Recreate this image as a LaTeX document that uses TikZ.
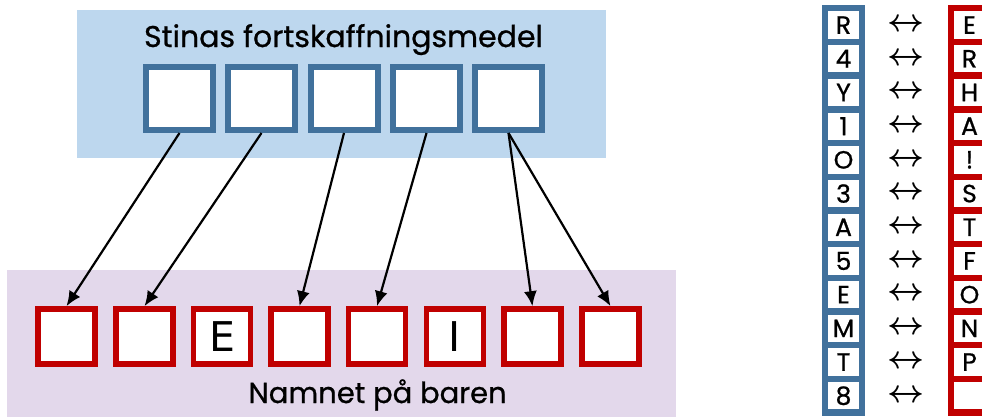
\documentclass[tikz,border=0pt]{standalone}
\usepackage{graphicx}
\usepackage{fontspec}
\setmainfont{Poppins}[FakeBold=0.8]
\newfontfamily\boxfont{DejaVu Sans}
\usetikzlibrary{arrows.meta}
\definecolor{skyfill}{HTML}{BDD7EE}
\definecolor{skyline}{HTML}{41719C}
\definecolor{lilacfill}{HTML}{E3D8EB}
\definecolor{barred}{HTML}{C00000}
\newcommand{\keyarrow}{\resizebox{37pt}{!}{\boldmath$\leftrightarrow$}}

\begin{document}
\begin{tikzpicture}[x=1pt,y=-1pt]
    \tikzstyle{every node}=[font=\fontsize{25}{25}\selectfont, inner sep=0pt]
    \tikzstyle{bluebox}=[draw=skyline, fill=white, line width=6pt,
        minimum width=67pt, minimum height=63pt]
    \tikzstyle{redbox}=[draw=barred, fill=white, line width=5.7pt,
        minimum width=57pt, minimum height=55pt,
        font=\boxfont\fontsize{41}{41}\selectfont]
    \tikzstyle{bluecell}=[draw=skyline, fill=white, line width=6.4pt,
        minimum width=36.6pt, minimum height=33.7pt]
    \tikzstyle{redcell}=[bluecell, draw=barred]
    \tikzstyle{link}=[-{Latex[length=15pt,width=13pt]}, line width=2.2pt]

    \useasboundingbox (0,0) rectangle (982,416);

    % panels
    \fill[skyfill] (77,10) rectangle (606,158);
    \fill[lilacfill] (7,270) rectangle (676,420);

    \node[anchor=base, font=\fontsize{30}{30}\selectfont] (title) at (343.5,47)
        {Stinas fortskaffningsmedel};
    \node[anchor=base, font=\fontsize{29}{29}\selectfont] (barname) at (377.5,403)
        {Namnet på baren};

    % transport squares
    \foreach \i/\x in {1/179.5,2/261.5,3/344,4/426.5,5/508.5}
        \node[bluebox] (t\i) at (\x,98.5) {};

    % name squares
    \foreach \i/\x/\c in {1/66.5/{},2/144.5/{},3/222/E,4/299.5/{},
                          5/377/{},6/455/I,7/532.5/{},8/610.5/{}}
        \node[redbox] (n\i) at (\x,336.5) {\c};

    \draw[link] (t1.south) -- (n1.north);
    \draw[link] (t2.south) -- (n2.north);
    \draw[link] (t3.south) -- (n4.north);
    \draw[link] (t4.south) -- (n5.north);
    \draw[link] (t5.south) -- (n7.north);
    \draw[link] (t5.south) -- (n8.north);

    % key
    \foreach \c/\p [count=\r from 0] in {R/E,4/R,Y/H,1/A,O/!,3/S,
                                         A/T,5/F,E/O,M/N,T/P,8/{}} {
        \node[bluecell] (k\r) at (843.5,{25.05+33.7*\r}) {\c};
        \node (s\r) at (905.5,{25.05+33.7*\r}) {\keyarrow};
        \node[redcell] (v\r) at (969.5,{25.05+33.7*\r}) {\p};
    }
\end{tikzpicture}
\end{document}
